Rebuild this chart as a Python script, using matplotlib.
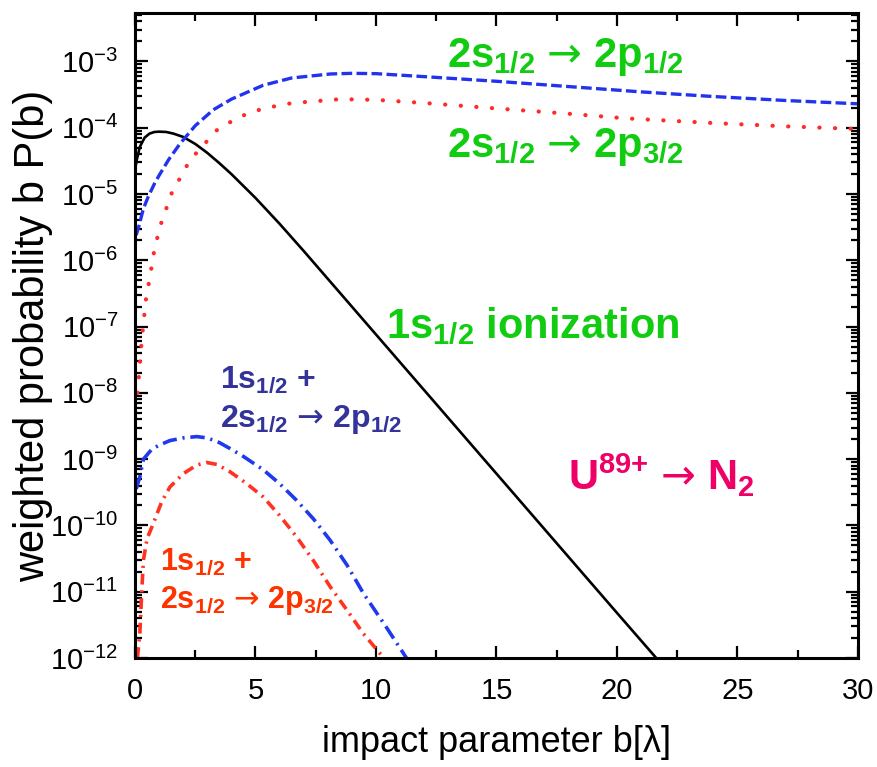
import numpy as np
import matplotlib
matplotlib.use("Agg")
import matplotlib.pyplot as plt
from matplotlib.ticker import FixedLocator, MultipleLocator, LogLocator, FuncFormatter, NullFormatter

plt.rcParams['font.family'] = ['Liberation Sans', 'DejaVu Sans']
plt.rcParams['mathtext.fontset'] = 'custom'
plt.rcParams['mathtext.rm'] = 'Liberation Sans'
plt.rcParams['mathtext.bf'] = 'Liberation Sans:bold'
plt.rcParams['mathtext.it'] = 'Liberation Sans:italic'
plt.rcParams['mathtext.sf'] = 'DejaVu Sans'

# impact parameter b (in units of lambda) and log10 of b*P(b) for each channel
b_ion = [0.02, 0.07, 0.2, 0.4, 0.6, 0.8, 1.0, 1.3, 1.6, 2.0, 2.5, 3.0, 3.5, 4.0,
         5.0, 6.0, 7.0, 8.0, 10, 12, 14, 16, 18, 20, 21.7]
log_ion = [-4.60, -4.49, -4.29, -4.15, -4.09, -4.065, -4.06, -4.065, -4.09, -4.14,
           -4.245, -4.38, -4.535, -4.70, -5.06, -5.45, -5.86, -6.28, -7.12, -7.96,
           -8.80, -9.64, -10.48, -11.32, -12.03]

b_p12 = [0.05, 0.15, 0.35, 0.55, 0.8, 1.0, 1.4, 1.87, 2.5, 3.25, 4.0, 5.32, 6.5,
         8.1, 9.0, 10, 12, 15, 18, 21, 24, 27, 30]
log_p12 = [-5.62, -5.50, -5.22, -5.04, -4.85, -4.72, -4.48, -4.24, -3.97, -3.73,
           -3.57, -3.36, -3.25, -3.19, -3.18, -3.185, -3.23, -3.30, -3.38, -3.46,
           -3.53, -3.59, -3.64]

b_p32 = [0.1, 0.15, 0.28, 0.45, 0.62, 0.8, 1.04, 1.52, 2.28, 3.39, 4.3, 5.32, 6.5,
         8.5, 10, 12.1, 15, 18, 20.4, 24, 27, 30]
log_p32 = [-8.0, -7.8, -7.2, -6.6, -6.25, -5.85, -5.49, -4.99, -4.49, -4.04, -3.84,
           -3.71, -3.63, -3.57, -3.58, -3.63, -3.71, -3.79, -3.86, -3.93, -3.98, -4.02]

b_ion_p12 = [0.05, 0.2, 0.35, 0.7, 1.0, 1.45, 2.0, 2.56, 3.0, 3.5, 3.94, 4.5, 5.32,
             6.0, 6.7, 7.4, 8.09, 8.8, 9.47, 10.4, 11.3]
log_ion_p12 = [-9.45, -9.27, -9.0, -8.85, -8.79, -8.72, -8.68, -8.66, -8.68, -8.75,
               -8.84, -8.96, -9.16, -9.37, -9.62, -9.90, -10.22, -10.6, -11.02,
               -11.52, -12.02]

b_ion_p32 = [0.1, 0.2, 0.28, 0.35, 0.5, 0.76, 1.1, 1.45, 2.0, 2.56, 2.97, 3.4, 3.94,
             4.6, 5.32, 6.0, 6.7, 7.4, 8.09, 8.8, 9.47, 10.37]
log_ion_p32 = [-12.0, -11.63, -11.0, -10.52, -10.2, -9.97, -9.65, -9.42, -9.22,
               -9.09, -9.05, -9.08, -9.19, -9.36, -9.57, -9.85, -10.17, -10.53,
               -10.92, -11.28, -11.63, -12.02]

x_ticks = [0, 5, 10, 15, 20, 25, 30]
y_decades = list(range(-12, -2))

fig = plt.figure(figsize=(8.78, 7.67), dpi=100)
ax = fig.add_axes([135 / 878, 1 - 658 / 767, (858 - 135) / 878, (658 - 13) / 767])


def pw(v):
    return np.power(10.0, v)


ax.plot(b_ion, pw(log_ion), color='black', lw=1.9, solid_capstyle='butt')
ax.plot(b_p12, pw(log_p12), color='#2233ee', lw=2.4, dashes=(3.2, 1.3))
ax.plot(b_p32, pw(log_p32), color='#ff2a2a', lw=3.0, dashes=(0.05, 3.7),
        dash_capstyle='round')
ax.plot(b_ion_p12, pw(log_ion_p12), color='#1f3aee', lw=2.6,
        dashes=(4.0, 1.6, 0.6, 1.6))
ax.plot(b_ion_p32, pw(log_ion_p32), color='#ff3322', lw=2.6,
        dashes=(3.0, 1.6, 0.6, 1.6))

ax.set_yscale('log')
ax.set_xlim(0, 30)
ax.set_ylim(1e-12, 10 ** -2.27)

ax.xaxis.set_major_locator(FixedLocator(x_ticks))
ax.xaxis.set_minor_locator(MultipleLocator(2.5))
ax.yaxis.set_major_locator(FixedLocator([10.0 ** d for d in y_decades]))
ax.yaxis.set_minor_locator(LogLocator(base=10, subs=np.arange(2, 10), numticks=30))
ax.yaxis.set_minor_formatter(NullFormatter())
ax.yaxis.set_major_formatter(
    FuncFormatter(lambda v, p: r'$\mathrm{10^{%d}}$' % int(round(np.log10(v)))))
ax.xaxis.set_major_formatter(FuncFormatter(lambda v, p: '%d' % v))

ax.tick_params(which='both', direction='in', top=True, right=True, width=1.6,
               colors='black')
ax.tick_params(axis='x', which='major', length=9, pad=14, labelsize=21)
ax.tick_params(axis='x', which='minor', length=6)
ax.tick_params(axis='y', which='major', length=9, pad=12, labelsize=21)
ax.tick_params(axis='y', which='minor', length=5)
for s in ax.spines.values():
    s.set_linewidth(2.2)

ax.set_xlabel('impact parameter b[λ]', fontsize=26, labelpad=14)
ax.set_ylabel('weighted probability b P(b)', fontsize=30, labelpad=-2)

green = '#11cc11'
navy = '#333399'
orange = '#ff3300'
magenta = '#ee0066'
ARROW = ' $\\mathsf{\u2192}$ '


def label(x, ly, s, color, size):
    ax.text(x, 10.0 ** ly, s, color=color, fontsize=size, fontweight='bold',
            ha='left', va='baseline')


label(12.95, -3.09, r'2s$_{\mathbf{1/2}}$' + ARROW + r'2p$_{\mathbf{1/2}}$', green, 30)
label(12.95, -4.44, r'2s$_{\mathbf{1/2}}$' + ARROW + r'2p$_{\mathbf{3/2}}$', green, 30)
label(10.41, -7.17, r'1s$_{\mathbf{1/2}}$ ionization', green, 30)
label(3.53, -7.93, r'1s$_{\mathbf{1/2}}$ +', navy, 23)
label(3.53, -8.52, r'2s$_{\mathbf{1/2}}$' + ARROW + r'2p$_{\mathbf{1/2}}$', navy, 23)
label(1.04, -10.67, r'1s$_{\mathbf{1/2}}$ +', orange, 22)
label(1.04, -11.25, r'2s$_{\mathbf{1/2}}$' + ARROW + r'2p$_{\mathbf{3/2}}$', orange, 22)
label(17.97, -9.47, r'U$^{\mathbf{89{+}}}$' + ARROW + r'N$_{\mathbf{2}}$', magenta, 30)

fig.savefig('out.png', dpi=100)
